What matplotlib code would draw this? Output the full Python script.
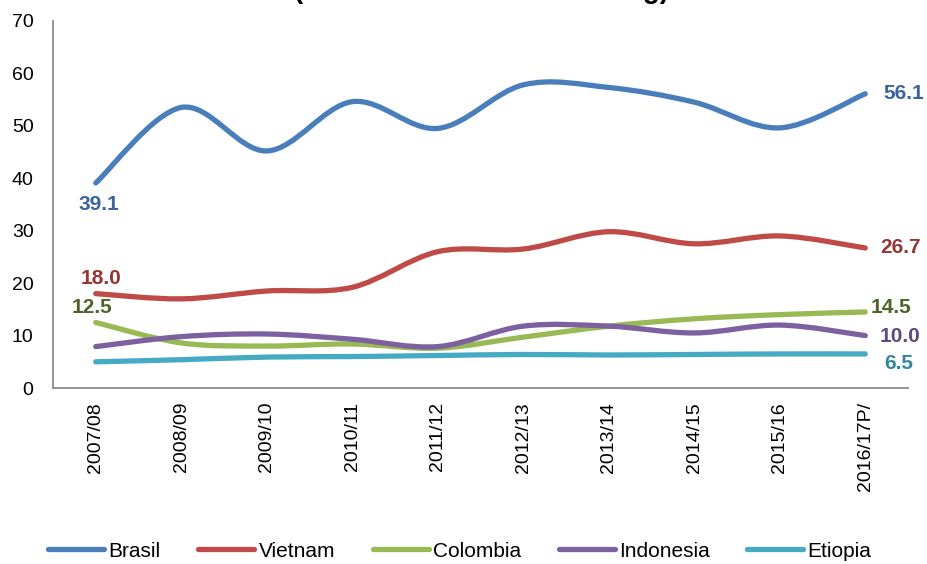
import numpy as np
import matplotlib
matplotlib.use("Agg")
import matplotlib.pyplot as plt
from matplotlib.path import Path
from matplotlib.patches import PathPatch
from matplotlib.lines import Line2D

plt.rcParams['font.family'] = ['Liberation Sans', 'DejaVu Sans']

seasons = ['2007/08', '2008/09', '2009/10', '2010/11', '2011/12',
           '2012/13', '2013/14', '2014/15', '2015/16', '2016/17P/']

brasil = [39.1, 53.5, 45.2, 54.6, 49.5, 57.8, 57.3, 54.5, 49.6, 56.1]
vietnam = [18.0, 17.0, 18.5, 19.2, 26.0, 26.5, 29.8, 27.5, 29.0, 26.7]
colombia = [12.5, 8.6, 8.0, 8.4, 7.6, 9.7, 11.8, 13.2, 14.0, 14.5]
indonesia = [7.9, 9.8, 10.3, 9.3, 7.9, 11.8, 11.8, 10.5, 12.0, 10.0]
etiopia = [5.0, 5.4, 5.9, 6.0, 6.2, 6.4, 6.3, 6.4, 6.5, 6.5]

names = ['Brasil', 'Vietnam', 'Colombia', 'Indonesia', 'Etiopia']
series = [brasil, vietnam, colombia, indonesia, etiopia]
colors = ['#4A7EBB', '#BE4B48', '#98B954', '#7D60A0', '#46AAC5']
label_colors = ['#3A64A0', '#943634', '#4F6228', '#604A7B', '#31859C']


def smooth_path(xs, ys):
    # excel-like smoothed line: cubic bezier with catmull-rom tangents
    pts = np.column_stack([xs, ys]).astype(float)
    ext = np.vstack([pts[0], pts, pts[-1]])
    verts = [pts[0]]
    codes = [Path.MOVETO]
    for i in range(len(pts) - 1):
        p0, p1, p2, p3 = ext[i], ext[i + 1], ext[i + 2], ext[i + 3]
        verts += [p1 + (p2 - p0) / 6, p2 - (p3 - p1) / 6, p2]
        codes += [Path.CURVE4] * 3
    return Path(verts, codes)


fig = plt.figure(figsize=(9.27, 5.64), dpi=100)
ax = fig.add_axes([0.0572, 0.312, 0.9223, 0.651])

x = np.arange(len(seasons))
for ys, c in zip(series, colors):
    ax.add_patch(PathPatch(smooth_path(x, ys), fill=False, edgecolor=c,
                           lw=3.8, capstyle='round', joinstyle='round'))

ax.set_xlim(-0.5, len(seasons) - 0.5)
ax.set_ylim(0, 70)
ax.set_yticks(range(0, 71, 10))
ax.set_xticks(x)
ax.set_xticklabels(seasons, rotation=90, fontsize=14)
ax.tick_params(axis='y', labelsize=14, length=0, pad=14)
ax.tick_params(axis='x', length=0, pad=10)
for s in ['top', 'right']:
    ax.spines[s].set_visible(False)
for s in ['left', 'bottom']:
    ax.spines[s].set_color('#8C8C8C')
    ax.spines[s].set_linewidth(1.3)

# value labels at first and last points
lbl = dict(fontsize=15, fontweight='bold')
ax.annotate(f'{brasil[0]:.1f}', (0, brasil[0]), xytext=(2, -9),
            textcoords='offset points', ha='center', va='top',
            color=label_colors[0], **lbl)
ax.annotate(f'{vietnam[0]:.1f}', (0, vietnam[0]), xytext=(4, 4),
            textcoords='offset points', ha='center', va='bottom',
            color=label_colors[1], **lbl)
ax.annotate(f'{colombia[0]:.1f}', (0, colombia[0]), xytext=(-3, 4),
            textcoords='offset points', ha='center', va='bottom',
            color=label_colors[2], **lbl)
last = len(seasons) - 1
offsets = [(13, 0), (11, 0), (4, 3), (10, -1), (14, -7)]
for ys, c, off in zip(series, label_colors, offsets):
    ax.annotate(f'{ys[-1]:.1f}', (last, ys[-1]), xytext=off,
                textcoords='offset points', ha='left', va='center',
                color=c, **lbl)

# title sits mostly above the canvas, as in the source image
fig.text(0.519, 1 + 1.5 / 564, '(Millones de sacos de 60 kg)', ha='center',
         va='baseline', fontsize=20, fontweight='bold')

handles = [Line2D([], [], color=c, lw=3.8, solid_capstyle='round') for c in colors]
fig.legend(handles, names, loc='center', bbox_to_anchor=(0.496, 0.023), ncol=5,
           frameon=False, fontsize=15, handlelength=2.7, handletextpad=0.2,
           columnspacing=1.8)

fig.savefig('out.png', dpi=100)
